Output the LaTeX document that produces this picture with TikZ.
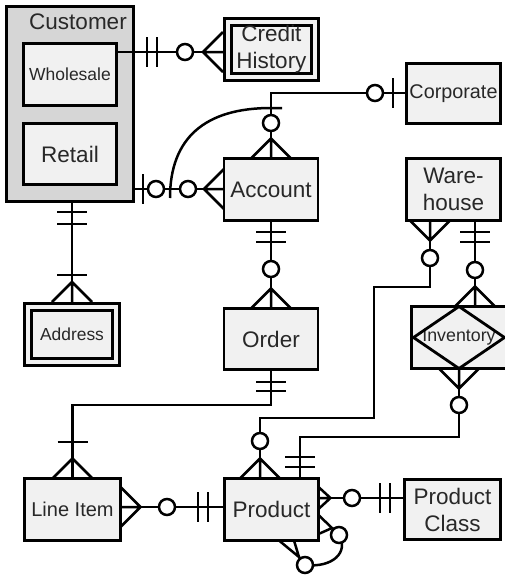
\documentclass[tikz,border=0pt]{standalone}
\usepackage{fontspec}
\setmainfont{Liberation Sans}
\definecolor{boxfill}{RGB}{241,241,241}
\definecolor{outerfill}{RGB}{214,214,214}
\definecolor{txt}{RGB}{40,40,40}
\tikzset{
  ent/.style={draw=black, line width=2.8pt, fill=boxfill, inner sep=0pt, outer sep=0pt,
    text=txt, align=center, font=\fontsize{22.5}{27}\selectfont},
  weak/.style={ent, double=boxfill, double distance=4pt, line width=2.8pt, outer sep=4.8pt},
  conn/.style={line width=2.5pt, draw=black},
  pics/crow/.style={code={\draw[conn] (-20,0) -- (0,-20) (-20,0) -- (0,20) (-20,0) -- (0,0);}},
  pics/crowsm/.style={code={\draw[conn] (-12,0) -- (0,-11) (-12,0) -- (0,11) (-12,0) -- (0,0);}},
  pics/bar/.style={code={\draw[conn] (0,-15) -- (0,15);}},
  pics/ring/.style={code={\draw[conn, fill=white] (0,0) circle (8pt);}},
}
\begin{document}
\begin{tikzpicture}[x=1pt, y=-1pt]
\useasboundingbox (0,0) rectangle (505,579);

% entities
\node[ent, fill=outerfill, minimum width=127pt, minimum height=195pt] (customer) at (70,104) {};
\node[text=txt, font=\fontsize{22.5}{27}\selectfont, inner sep=0pt] (custlabel) at (78,22) {Customer};
\node[ent, minimum width=93pt, minimum height=62pt, font=\fontsize{17.5}{21}\selectfont] (wholesale) at (70,74.5) {Wholesale};
\node[ent, minimum width=93pt, minimum height=61pt] (retail) at (70,154) {Retail};
\node[weak, minimum width=87.4pt, minimum height=55.4pt] (credit) at (271.5,49.5) {Credit\\History};
\node[ent, minimum width=94pt, minimum height=60pt, font=\fontsize{19.8}{24}\selectfont] (corporate) at (453.5,93.5) {Corporate};
\node[ent, minimum width=94pt, minimum height=62pt] (account) at (271,189.5) {Account};
\node[ent, minimum width=94pt, minimum height=62pt] (warehouse) at (453.5,189.5) {Ware-\\house};
\node[weak, minimum width=88.4pt, minimum height=55.4pt, font=\fontsize{17.4}{21}\selectfont] (address) at (72,334.5) {Address};
\node[ent, minimum width=94pt, minimum height=61pt] (order) at (271,339) {Order};
\node[ent, minimum width=95pt, minimum height=62pt, font=\fontsize{17.8}{21}\selectfont] (inv) at (459,337.5) {Inventory};
\draw[line width=2.8pt] (inv.north) -- ([xshift=2pt]inv.west) -- (inv.south) -- ([xshift=-2pt]inv.east) -- cycle;
\node[ent, minimum width=96pt, minimum height=62pt, font=\fontsize{20}{24}\selectfont] (lineitem) at (72.5,509.5) {Line Item};
\node[ent, minimum width=94pt, minimum height=62pt] (product) at (271.5,509.5) {Product};
\node[ent, minimum width=96pt, minimum height=60pt] (prodclass) at (452.5,509.5) {Product\\Class};

% Customer -- Credit History
\draw[conn] (wholesale.east |- 0,52) -- (credit.west |- 0,52);
\pic at (147,52) {bar};
\pic at (157,52) {bar};
\pic at (185,52) {ring};
\pic at (credit.west |- 0,52) {crow};

% Customer -- Account
\draw[conn] (customer.east |- 0,189) -- (account.west |- 0,189);
\pic at (143,189) {bar};
\pic at (156,189) {ring};
\pic at (188,189) {ring};
\pic at (account.west |- 0,189) {crow};

% Corporate -- Account
\draw[conn] (corporate.west |- 0,93) -| (account.north);
\pic at (393,93) {bar};
\pic at (375,93) {ring};
\pic at (271,123) {ring};
\pic[rotate=-90] at (account.north) {crow};

% exclusive arc across the two Account relationships
\draw[conn] (282,108) -- (271,108) .. controls (205,108) and (170,138) .. (170,198);

% Account -- Order
\draw[conn] (account.south) -- (order.north);
\pic[rotate=90] at (271,232) {bar};
\pic[rotate=90] at (271,242) {bar};
\pic at (271,269) {ring};
\pic[rotate=-90] at (order.north) {crow};

% Customer -- Address
\draw[conn] (address.north |- customer.south) -- (address.north);
\pic[rotate=90] at (72,212) {bar};
\pic[rotate=90] at (72,224) {bar};
\pic[rotate=90] at (72,275) {bar};
\pic[rotate=-90] at (address.north) {crow};

% Order -- Line Item
\draw[conn] (order.south) |- (lineitem.north |- 0,405) -- (lineitem.north);
\pic[rotate=90] at (271,382) {bar};
\pic[rotate=90] at (271,391) {bar};
\pic[rotate=90] at (72.5,442) {bar};
\pic[rotate=-90] at (lineitem.north) {crow};

% Line Item -- Product
\draw[conn] (lineitem.east |- 0,507) -- (product.west |- 0,507);
\pic[rotate=180] at (lineitem.east |- 0,507) {crow};
\pic at (167,507) {ring};
\pic at (198,507) {bar};
\pic at (208,507) {bar};

% Product -- Product Class
\draw[conn] (product.east |- 0,498) -- (prodclass.west |- 0,498);
\pic[rotate=180] at (product.east |- 0,498) {crowsm};
\pic at (352,498) {ring};
\pic at (380,498) {bar};
\pic at (390,498) {bar};

% Product -- Product (self relationship)
\draw[conn] (product.east |- 0,515) -- (332,528) -- (product.east |- 0,534);
\draw[conn] (332,528) -- (339,535);
\draw[conn] (product.south -| 279,0) -- (299,557) -- (product.south -| 294,0);
\draw[conn] (299,557) -- (305,565);
\draw[conn] (305,565) .. controls (333,568) and (349,552) .. (339,535);
\pic at (339,535) {ring};
\pic at (305,565) {ring};

% Warehouse -- Product
\draw[conn] (warehouse.south -| 430,0) |- (374,287) |- (260,418) -- (product.north -| 260,0);
\pic[rotate=90] at (warehouse.south -| 430,0) {crow};
\pic at (430,258) {ring};
\pic at (260,441) {ring};
\pic[rotate=-90] at (product.north -| 260,0) {crow};

% Warehouse -- Inventory
\draw[conn] (warehouse.south -| 475,0) -- (inv.north -| 475,0);
\pic[rotate=90] at (475,232) {bar};
\pic[rotate=90] at (475,242) {bar};
\pic at (475,270) {ring};
\pic[rotate=-90] at (inv.north -| 475,0) {crow};

% Inventory -- Product
\draw[conn] (inv.south) |- (300,437) -- (product.north -| 300,0);
\pic[rotate=90] at (inv.south) {crow};
\pic at (459,405) {ring};
\pic[rotate=90] at (300,457) {bar};
\pic[rotate=90] at (300,467) {bar};
\end{tikzpicture}
\end{document}
